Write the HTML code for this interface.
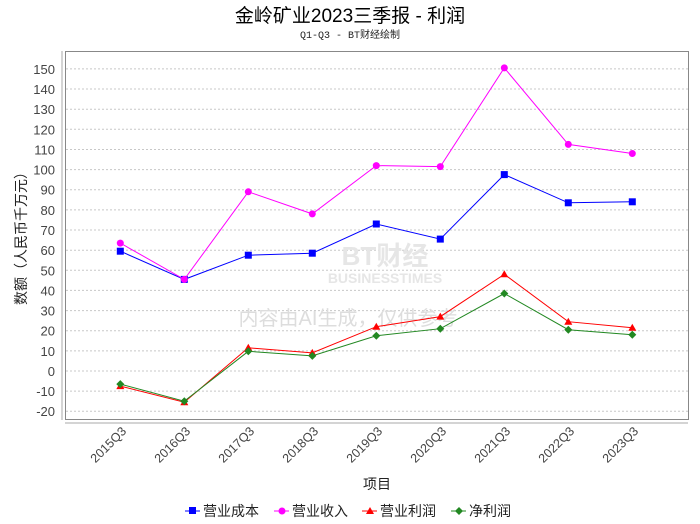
<!DOCTYPE html><html><head><meta charset="utf-8"><style>body{margin:0;background:#fff}svg{display:block;font-family:"Liberation Sans","Noto Sans CJK SC",sans-serif}</style></head><body>
<svg width="700" height="524" xmlns="http://www.w3.org/2000/svg">
<defs>
<marker id="ms" markerUnits="userSpaceOnUse" markerWidth="8" markerHeight="8" refX="4" refY="4"><rect x="0.5" y="0.5" width="7" height="7" fill="#00f"/></marker>
<marker id="mc" markerUnits="userSpaceOnUse" markerWidth="8" markerHeight="8" refX="4" refY="4"><circle cx="4" cy="4" r="3.5" fill="#f0f"/></marker>
<marker id="mt" markerUnits="userSpaceOnUse" markerWidth="10" markerHeight="10" refX="5" refY="5"><path d="M5,1 L9,8 L1,8Z" fill="#f00"/></marker>
<marker id="md" markerUnits="userSpaceOnUse" markerWidth="10" markerHeight="10" refX="5" refY="5"><path d="M5,1 L9,5 L5,9 L1,5Z" fill="#282"/></marker>
</defs>
<rect width="700" height="524" fill="#fff"/>
<text x="350" y="22" font-size="19" text-anchor="middle" fill="#000">金岭矿业2023三季报 - 利润</text>
<text x="350" y="38" font-size="10" text-anchor="middle" fill="#222" font-family="Liberation Mono,'Noto Sans CJK SC',monospace">Q1-Q3 - BT财经绘制</text>
<rect x="65.5" y="51.5" width="623" height="368" fill="#fff" stroke="#888"/>
<line x1="62" y1="51" x2="62" y2="420" stroke="#aaa"/>
<line x1="65" y1="423" x2="688" y2="423" stroke="#aaa"/>
<g stroke="#c8c8c8" stroke-dasharray="2,2">
<line x1="66" x2="688" y1="411.3" y2="411.3"/><line x1="66" x2="688" y1="391.1" y2="391.1"/><line x1="66" x2="688" y1="371" y2="371"/><line x1="66" x2="688" y1="350.9" y2="350.9"/><line x1="66" x2="688" y1="330.7" y2="330.7"/><line x1="66" x2="688" y1="310.6" y2="310.6"/><line x1="66" x2="688" y1="290.4" y2="290.4"/><line x1="66" x2="688" y1="270.3" y2="270.3"/><line x1="66" x2="688" y1="250.2" y2="250.2"/><line x1="66" x2="688" y1="230" y2="230"/><line x1="66" x2="688" y1="209.9" y2="209.9"/><line x1="66" x2="688" y1="189.7" y2="189.7"/><line x1="66" x2="688" y1="169.6" y2="169.6"/><line x1="66" x2="688" y1="149.5" y2="149.5"/><line x1="66" x2="688" y1="129.3" y2="129.3"/><line x1="66" x2="688" y1="109.2" y2="109.2"/><line x1="66" x2="688" y1="89" y2="89"/><line x1="66" x2="688" y1="68.9" y2="68.9"/>
</g>
<g font-size="13" fill="#444" text-anchor="end">
<text x="55" y="416">-20</text><text x="55" y="396">-10</text><text x="55" y="376">0</text><text x="55" y="356">10</text><text x="55" y="335.7">20</text><text x="55" y="315.6">30</text><text x="55" y="295.4">40</text><text x="55" y="275.3">50</text><text x="55" y="255.2">60</text><text x="55" y="235">70</text><text x="55" y="214.9">80</text><text x="55" y="194.7">90</text><text x="55" y="174.6">100</text><text x="55" y="154.5">110</text><text x="55" y="134.3">120</text><text x="55" y="114.2">130</text><text x="55" y="94">140</text><text x="55" y="73.9">150</text>
</g>
<g font-size="12.5" fill="#444" text-anchor="end">
<text transform="translate(127,432) rotate(-45)">2015Q3</text>
<text transform="translate(191,432) rotate(-45)">2016Q3</text>
<text transform="translate(255,432) rotate(-45)">2017Q3</text>
<text transform="translate(319,432) rotate(-45)">2018Q3</text>
<text transform="translate(383,432) rotate(-45)">2019Q3</text>
<text transform="translate(447,432) rotate(-45)">2020Q3</text>
<text transform="translate(511,432) rotate(-45)">2021Q3</text>
<text transform="translate(575,432) rotate(-45)">2022Q3</text>
<text transform="translate(639,432) rotate(-45)">2023Q3</text>
</g>
<text x="348" y="325" font-size="20" fill="#ddd" text-anchor="middle">内容由AI生成，仅供参考</text>
<text x="385" y="265" font-size="26" fill="#e6e6e6" text-anchor="middle" font-weight="bold">BT财经</text>
<text x="385" y="283" font-size="14" fill="#e6e6e6" text-anchor="middle" font-weight="bold">BUSINESSTIMES</text>
<text x="26" y="235" font-size="14" fill="#222" transform="rotate(-90 26 235)" text-anchor="middle">数额（人民币千万元）</text>
<text x="377" y="489" font-size="14" fill="#222" text-anchor="middle">项目</text>
<g fill="none" stroke-width="1">
<polyline stroke="#00f" marker-start="url(#ms)" marker-mid="url(#ms)" marker-end="url(#ms)" points="120.3,251.2 184.3,279.4 248.3,255.2 312.3,253.2 376.3,224 440.3,239.1 504.3,174.6 568.3,202.8 632.3,201.8"/>
<polyline stroke="#f0f" marker-start="url(#mc)" marker-mid="url(#mc)" marker-end="url(#mc)" points="120.3,243.1 184.3,279.4 248.3,191.8 312.3,213.9 376.3,165.6 440.3,166.6 504.3,67.9 568.3,144.4 632.3,153.5"/>
<polyline stroke="#f00" marker-start="url(#mt)" marker-mid="url(#mt)" marker-end="url(#mt)" points="120.3,386.1 184.3,402.2 248.3,347.8 312.3,352.9 376.3,326.7 440.3,316.6 504.3,274.3 568.3,321.7 632.3,327.7"/>
<polyline stroke="#282" marker-start="url(#md)" marker-mid="url(#md)" marker-end="url(#md)" points="120.3,384.1 184.3,401.2 248.3,351.3 312.3,355.9 376.3,335.8 440.3,328.7 504.3,293.5 568.3,329.7 632.3,334.7"/>
</g>
<g font-size="14" fill="#222">
<line x1="185" y1="511" x2="200" y2="511" stroke="#00f"/><rect x="189" y="507" width="7" height="7" fill="#00f"/><text x="203" y="516">营业成本</text>
<line x1="274" y1="511" x2="289" y2="511" stroke="#f0f"/><circle cx="282" cy="511" r="3.5" fill="#f0f"/><text x="292" y="516">营业收入</text>
<line x1="362" y1="511" x2="377" y2="511" stroke="#f00"/><path d="M370,507 L374,514 L366,514Z" fill="#f00"/><text x="380" y="516">营业利润</text>
<line x1="451" y1="511" x2="466" y2="511" stroke="#282"/><path d="M459,507 L463,511 L459,515 L455,511Z" fill="#282"/><text x="469" y="516">净利润</text>
</g>
</svg></body></html>
